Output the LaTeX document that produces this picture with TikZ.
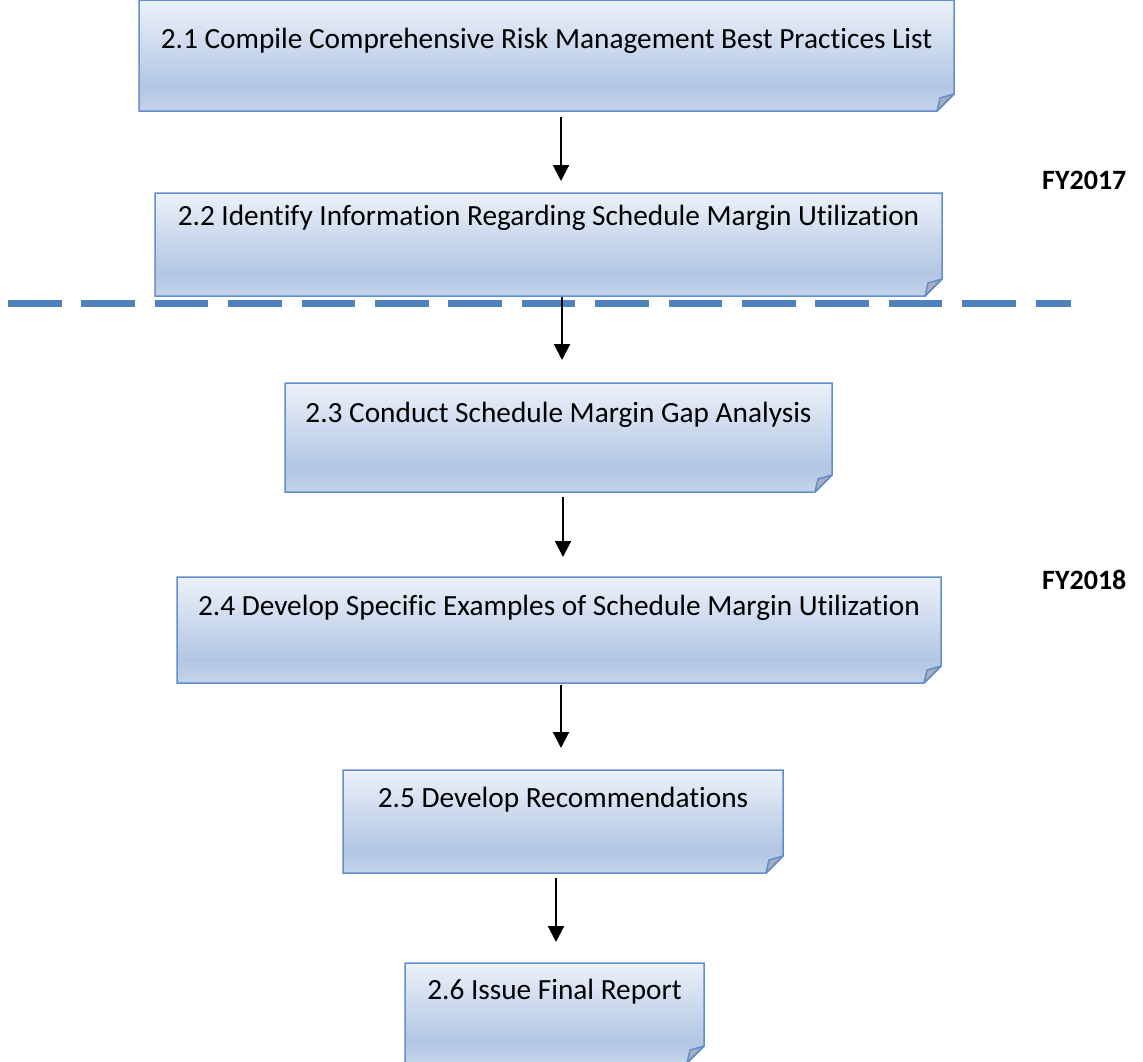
\documentclass[tikz,border=0pt]{standalone}
\usepackage{fontspec}
\setmainfont{Carlito}[Ligatures=NoCommon]
\usetikzlibrary{arrows.meta}
\definecolor{sTop}{RGB}{236,241,249}
\definecolor{sMid}{RGB}{178,198,227}
\definecolor{sBot}{RGB}{196,212,235}
\definecolor{boxline}{RGB}{98,142,205}
\definecolor{flapfill}{RGB}{168,174,186}
\definecolor{divcol}{RGB}{79,129,189}
\pgfdeclareverticalshading{boxshade}{100bp}{color(0bp)=(sBot); color(25bp)=(sBot); color(36bp)=(sMid); color(75bp)=(sTop); color(100bp)=(sTop)}
\tikzset{
  boxnode/.style={inner sep=0pt, outer sep=0pt},
  boxbody/.style={shading=boxshade, draw=boxline, line width=1.5pt, line join=miter},
  flap/.style={fill=flapfill, draw=boxline, line width=1.5pt, line join=round},
  lab/.style={font=\fontsize{29.3}{34}\selectfont, anchor=base, inner sep=0pt},
  fy/.style={font=\fontsize{28}{32}\selectfont\bfseries, anchor=base west, inner sep=0pt},
  arr/.style={-{Triangle[width=16pt,length=16pt]}, line width=2pt, black},
  divider/.style={divcol, line width=7pt, dash pattern=on 53.5pt off 19.9pt}
}
\newcommand\foldbox[5]{%
  \node[boxnode, minimum width={#4-#2}, minimum height={#5-#3}] (#1) at ({(#2+#4)/2},{(#3+#5)/2}) {};
  \path[boxbody] (#1.north west) -- (#1.north east) -- ([yshift=17pt]#1.south east)
     -- ([xshift=-17pt]#1.south east) -- (#1.south west) -- cycle;
  \path[flap] ([xshift=-17pt]#1.south east) .. controls ([xshift=-16pt,yshift=7pt]#1.south east) .. ([xshift=-14pt,yshift=13pt]#1.south east)
     -- ([yshift=17pt]#1.south east) -- cycle;
}
\begin{document}
\begin{tikzpicture}[x=1pt,y=-1pt]
\useasboundingbox (0,0) rectangle (1143,1061);
\fill[white] (0,0) rectangle (1143,1061);
\foldbox{b1}{139}{0}{954}{111}
\foldbox{b2}{155}{193}{942}{296}
\foldbox{b3}{285}{383}{832}{492}
\foldbox{b4}{177}{577}{941}{683}
\foldbox{b5}{343}{770}{783}{873}
\foldbox{b6}{405}{963}{704}{1063}
\node[lab] (t1) at (546.5,48) {2.1 Compile Comprehensive Risk Management Best Practices List};
\node[lab] (t2) at (548.5,225) {2.2 Identify Information Regarding Schedule Margin Utilization};
\node[lab] (t3) at (558.5,422) {2.3 Conduct Schedule Margin Gap Analysis};
\node[lab] (t4) at (559,615) {2.4 Develop Specific Examples of Schedule Margin Utilization};
\node[lab] (t5) at (563,807) {2.5 Develop Recommendations};
\node[lab] (t6) at (554.5,999) {2.6 Issue Final Report};
\node[fy] (fy17) at (1042,189) {FY2017};
\node[fy] (fy18) at (1042,589) {FY2018};
\coordinate (dl) at (8,303.5);
\coordinate (dr) at (1071,303.5);
\draw[divider] (dl) -- (dr);
\coordinate (x1) at (561,0);
\coordinate (x2) at (562,0);
\coordinate (x3) at (563,0);
\coordinate (x4) at (561,0);
\coordinate (x5) at (556,0);
\draw[arr, shorten <=6pt, shorten >=12pt] (b1.south -| x1) -- (b2.north -| x1);
\draw[arr, shorten <=1pt, shorten >=23pt] (b2.south -| x2) -- (b3.north -| x2);
\draw[arr, shorten <=5pt, shorten >=20pt] (b3.south -| x3) -- (b4.north -| x3);
\draw[arr, shorten <=2pt, shorten >=22pt] (b4.south -| x4) -- (b5.north -| x4);
\draw[arr, shorten <=5pt, shorten >=21pt] (b5.south -| x5) -- (b6.north -| x5);
\end{tikzpicture}
\end{document}
